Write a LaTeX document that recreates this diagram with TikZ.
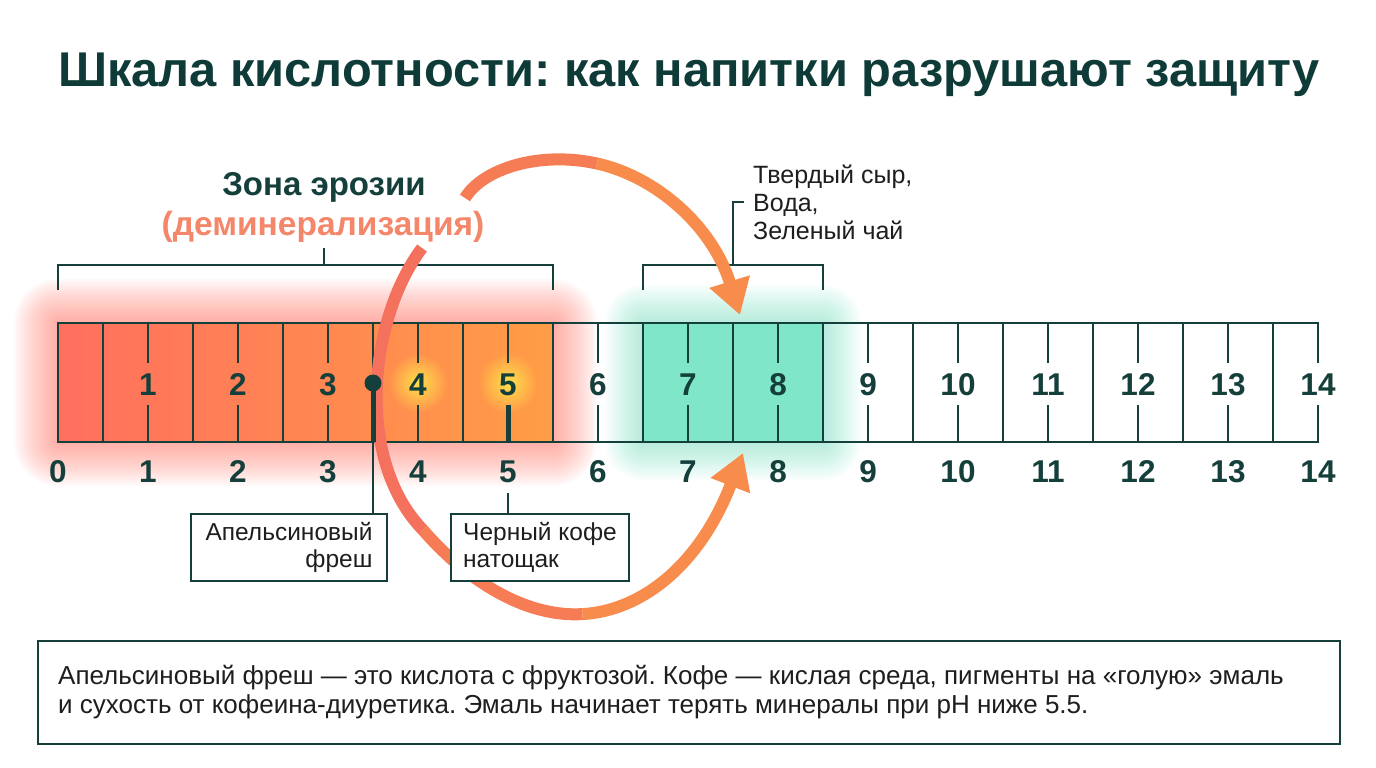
\documentclass[tikz,border=0pt]{standalone}
\usepackage{fontspec}
\setmainfont{Liberation Sans}
\usetikzlibrary{arrows.meta,fadings}
\definecolor{ink}{HTML}{143F3B}
\definecolor{titlec}{HTML}{0E3B37}
\definecolor{salmon}{HTML}{F4866A}
\definecolor{txt}{HTML}{1E1E1E}
\definecolor{redL}{HTML}{FF6F5F}
\definecolor{redR}{HTML}{FF9D46}
\definecolor{glowred}{HTML}{FF7565}
\definecolor{mint}{HTML}{7FE7C7}
\definecolor{glowyel}{HTML}{FFE04A}
\definecolor{arrA}{HTML}{F4715E}
\definecolor{arrB}{HTML}{F67C56}
\definecolor{arrC}{HTML}{F88C4C}
\tikzfading[name=softdot,inner color=transparent!0,outer color=transparent!100]
\begin{document}
\frenchspacing
\begin{tikzpicture}[x=1pt,y=-1pt,
  scl/.style={draw=ink,line width=2pt},
  brk/.style={draw=ink,line width=2pt},
  lead/.style={draw=ink,line width=2pt},
  num/.style={font=\bfseries\fontsize{31.5}{38}\selectfont,text=ink,inner sep=0pt,anchor=base},
  callout/.style={draw=ink,line width=2pt,fill=white,font=\fontsize{24.5}{27}\selectfont,text=txt},
  curvearr/.style={line width=12pt,line cap=butt},
  bigtip/.style={-{Triangle[length=35pt,width=40pt]}}
]
\fill[white] (0,0) rectangle (1376,768);
\useasboundingbox (0,0) rectangle (1376,768);

% title
\node[anchor=base west,inner sep=0pt,font=\bfseries\fontsize{48.8}{56}\selectfont,text=titlec] (title) at (58,87) {Шкала кислотности: как напитки разрушают защиту};

% glows
\foreach \d in {2,4,...,44} {
  \fill[glowred,opacity=0.033,rounded corners=\d pt] ({58-\d},{323-\d}) rectangle ({553+\d},{442+\d});
}
\foreach \d in {2,4,...,38} {
  \fill[mint,opacity=0.035,rounded corners=\d pt] ({643-\d},{323-\d}) rectangle ({823+\d},{442+\d});
}
% fills
\shade[left color=redL,right color=redR] (58,323) rectangle (553,442);
\fill[mint] (643,323) rectangle (823,442);
\fill[glowyel,path fading=softdot] (418,383) circle (30);
\fill[glowyel,path fading=softdot] (508,383) circle (30);

% scale
\draw[scl] (58,323) -- (1318,323);
\draw[scl] (58,442) -- (1318,442);
\draw[scl] (58,322) -- (58,443);
\foreach \k in {0,...,13} {
  \draw[scl] ({103+90*\k},323) -- ({103+90*\k},442);
}
\foreach \k in {1,...,14} {
  \draw[scl] ({58+90*\k},322) -- ({58+90*\k},363);
  \draw[scl] ({58+90*\k},405) -- ({58+90*\k},443);
  \node[num] (in\k) at ({58+90*\k},395) {\k};
}
\foreach \k in {0,...,14} {
  \node[num] (ph\k) at ({58+90*\k},482) {\k};
}

% brackets and labels
\node[anchor=base,inner sep=0pt,font=\bfseries\fontsize{33}{38}\selectfont,text=ink] (zone) at (324,195) {Зона эрозии};
\node[anchor=base,inner sep=0pt,font=\bfseries\fontsize{33.5}{38}\selectfont,text=salmon] (demin) at (323,235) {(деминерализация)};
\draw[brk] (58,290) -- (58,265) -- (553,265) -- (553,290);
\draw[brk] (324,265) -- (324,248);
\node[anchor=west,align=left,inner xsep=9pt,inner ysep=0pt,font=\fontsize{25}{28}\selectfont,text=txt] (cheese) at (744,202) {Твердый сыр,\\Вода,\\Зеленый чай};
\draw[brk] (643,290) -- (643,265) -- (823,265) -- (823,290);
\draw[brk] (733,265) |- (cheese.west);

% curved arrows
\draw[curvearr,arrA] (422,248) .. controls (368,320) and (355,460) .. (423,530);
\draw[curvearr,arrB] (423,530) .. controls (466.5,580) and (524.5,617.5) .. (582.6,614.1);
\draw[curvearr,arrC,bigtip] (582.6,614.1) .. controls (640.75,610.75) and (699,566.5) .. (743,453);
\draw[curvearr,arrB] (465,198) .. controls (482.5,169) and (538.75,150.75) .. (596.9,163.5);
\draw[curvearr,arrC,bigtip] (596.9,163.5) .. controls (655,176.25) and (712,225) .. (740,315);

% markers
\node[circle,fill=ink,inner sep=0pt,minimum size=17pt] (oj) at (373,383) {};
\coordinate (ojb) at (373,442);
\draw[ink,line width=5pt] (oj.center) -- (ojb);
\coordinate (cft) at (508,405);
\coordinate (cfb) at (508,442);
\draw[ink,line width=5pt] (cft) -- (cfb);

% callouts
\node[callout,align=right,minimum width=196pt,minimum height=67pt,anchor=north west] (ojbox) at (190,513) {Апельсиновый\\фреш};
\node[callout,align=left,minimum width=178pt,minimum height=67pt,anchor=north west] (cfbox) at (450,513) {Черный кофе\\натощак};
\draw[lead] (ojb) -- (ojb |- ojbox.north);
\coordinate (cfc) at (508,493);
\draw[lead] (cfc) -- (cfc |- cfbox.north);

% note
\node[draw=ink,line width=2pt,fill=white,minimum width=1302pt,minimum height=103pt,anchor=north west,inner sep=0pt] (notebox) at (37,640) {};
\node[anchor=west,align=left,inner sep=0pt,font=\fontsize{26}{29}\selectfont,text=txt] (note) at ([xshift=21pt]notebox.west) {Апельсиновый фреш — это кислота с фруктозой. Кофе — кислая среда, пигменты на «голую» эмаль\\и сухость от кофеина-диуретика. Эмаль начинает терять минералы при pH ниже 5.5.};
\end{tikzpicture}
\end{document}
